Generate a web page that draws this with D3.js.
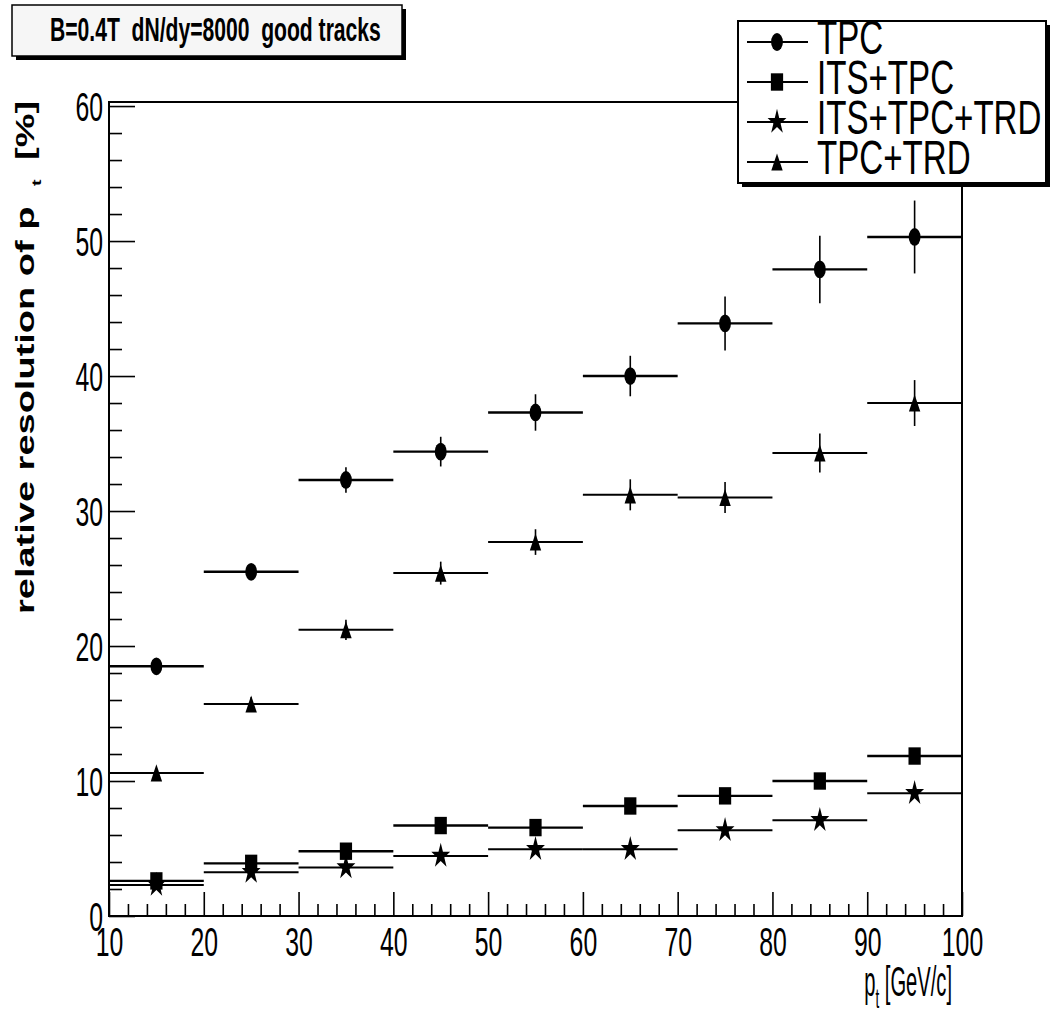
<!DOCTYPE html>
<html>
<head>
<meta charset="utf-8">
<script src="https://cdn.jsdelivr.net/npm/d3@7"></script>
<style>
  body { margin: 0; background: #fff; }
  svg text { font-family: "Liberation Sans", Arial, Helvetica, sans-serif; white-space: pre; fill: #000; }
</style>
</head>
<body>
<div id="chart"></div>
<script>
// pt bins [GeV/c]
const binEdges   = [10, 20, 30, 40, 50, 60, 70, 80, 90, 100];
const binCenters = [15, 25, 35, 45, 55, 65, 75, 85, 95];

// relative pt resolution [%]
const tpc       = [18.5, 25.5, 32.3, 34.4, 37.3, 40.0, 43.9, 47.9, 50.3];
const tpcErr    = [0.3, 0.4, 0.95, 1.1, 1.35, 1.5, 2.0, 2.5, 2.7];
const its       = [2.6, 3.9, 4.8, 6.7, 6.55, 8.15, 8.9, 10.0, 11.85];
const itsErr    = [0.1, 0.15, 0.15, 0.2, 0.2, 0.25, 0.25, 0.3, 0.35];
const itsTrd    = [2.3, 3.25, 3.6, 4.45, 4.95, 4.95, 6.35, 7.1, 9.1];
const itsTrdErr = [0.1, 0.1, 0.15, 0.15, 0.2, 0.2, 0.25, 0.25, 0.3];
const tpcTrd    = [10.6, 15.7, 21.2, 25.4, 27.7, 31.2, 31.0, 34.3, 38.0];
const tpcTrdErr = [0.35, 0.5, 0.75, 0.85, 0.95, 1.15, 1.15, 1.45, 1.7];

const xTicks = [10, 20, 30, 40, 50, 60, 70, 80, 90, 100];
const yTicks = [0, 10, 20, 30, 40, 50, 60];
const xTickLabels = ['10', '20', '30', '40', '50', '60', '70', '80', '90', '100'];
const yTickLabels = ['0', '10', '20', '30', '40', '50', '60'];
const seriesNames = ['TPC', 'ITS+TPC', 'ITS+TPC+TRD', 'TPC+TRD'];
const titleText = 'B=0.4T  dN/dy=8000  good tracks';

const W = 1050, H = 1016;
const margin = { top: 102, right: 88, bottom: 100, left: 109 };
const iW = W - margin.left - margin.right;
const iH = H - margin.top - margin.bottom;
const SX = 0.62;   // ROOT text looks horizontally squeezed

const svg = d3.select('#chart').append('svg')
  .attr('width', W).attr('height', H);

const g = svg.append('g').attr('transform', `translate(${margin.left},${margin.top})`);

const x = d3.scaleLinear().domain([10, 100]).range([0, iW]);
const y = d3.scaleLinear().domain([0, 60.3]).range([iH, 0]);

const xMinor = d3.range(12, 100, 2).filter(v => v % 10 !== 0);
const yMinor = d3.range(2, 60, 2).filter(v => v % 10 !== 0);

// ticks (inside the frame, ROOT style)
const tickStyle = ax => ax.selectAll('line').attr('stroke', '#000').attr('stroke-width', 1.6);

g.append('g').attr('transform', `translate(0,${iH})`)
  .call(d3.axisBottom(x).tickValues(xMinor).tickSize(-12).tickFormat(''))
  .call(ax => ax.select('.domain').remove())
  .call(tickStyle);

g.append('g').attr('transform', `translate(0,${iH})`)
  .call(d3.axisBottom(x).tickValues(xTicks).tickSize(-24).tickFormat((d, i) => xTickLabels[i]))
  .call(ax => ax.select('.domain').remove())
  .call(tickStyle)
  .call(ax => ax.selectAll('text')
    .attr('y', 0).attr('dy', null)
    .attr('font-size', 40)
    .attr('transform', `translate(0,40) scale(${SX},1)`));

g.append('g')
  .call(d3.axisLeft(y).tickValues(yMinor).tickSize(-13).tickFormat(''))
  .call(ax => ax.select('.domain').remove())
  .call(tickStyle);

g.append('g')
  .call(d3.axisLeft(y).tickValues(yTicks).tickSize(-26).tickFormat((d, i) => yTickLabels[i]))
  .call(ax => ax.select('.domain').remove())
  .call(tickStyle)
  .call(ax => ax.selectAll('text')
    .attr('x', 0).attr('dy', null)
    .attr('font-size', 40)
    .attr('transform', `translate(-6,14) scale(${SX},1)`));

// frame
g.append('rect')
  .attr('width', iW).attr('height', iH)
  .attr('fill', 'none').attr('stroke', '#000').attr('stroke-width', 2);

// markers, stretched vertically like the original
const symTriangle = {
  draw(ctx, size) {
    const w = Math.sqrt(size);
    ctx.moveTo(0, -w / 2);
    ctx.lineTo(w / 2, w / 2);
    ctx.lineTo(-w / 2, w / 2);
    ctx.closePath();
  }
};
const markers = {
  circle:   { type: d3.symbolCircle, size: 110, sy: 1.5 },
  square:   { type: d3.symbolSquare, size: 150, sy: 1.42 },
  star:     { type: d3.symbolStar, size: 110, sy: 1.34 },
  triangle: { type: symTriangle, size: 130, sy: 1.5 }
};

function drawSeries(vals, errs, mk, lw) {
  const s = g.append('g').attr('stroke', '#000');
  s.selectAll('line.v').data(vals).join('line')
    .attr('class', 'v')
    .attr('x1', (d, i) => x(binCenters[i])).attr('x2', (d, i) => x(binCenters[i]))
    .attr('y1', (d, i) => y(d - errs[i])).attr('y2', (d, i) => y(d + errs[i]))
    .attr('stroke-width', 1.6);
  s.selectAll('line.h').data(vals).join('line')
    .attr('class', 'h')
    .attr('x1', (d, i) => x(binEdges[i])).attr('x2', (d, i) => x(binEdges[i + 1]))
    .attr('y1', d => y(d)).attr('y2', d => y(d))
    .attr('stroke-width', lw);
  const m = markers[mk];
  s.selectAll('path.m').data(vals).join('path')
    .attr('class', 'm')
    .attr('d', d3.symbol().type(m.type).size(m.size))
    .attr('transform', (d, i) => `translate(${x(binCenters[i])},${y(d)}) scale(1,${m.sy})`)
    .attr('fill', '#000').attr('stroke', 'none');
}

drawSeries(tpcTrd, tpcTrdErr, 'triangle', 2);
drawSeries(itsTrd, itsTrdErr, 'star', 2);
drawSeries(its, itsErr, 'square', 2.4);
drawSeries(tpc, tpcErr, 'circle', 2.4);

// axis titles
svg.append('text')
  .attr('font-weight', 'bold').attr('font-size', 25)
  .attr('transform', 'translate(34,614) rotate(-90) scale(1.52,1)')
  .text('relative resolution of p');
svg.append('text')
  .attr('font-weight', 'bold').attr('font-size', 13)
  .attr('transform', 'translate(41,186) rotate(-90) scale(1.52,1)')
  .text('t');
svg.append('text')
  .attr('font-weight', 'bold').attr('font-size', 25)
  .attr('transform', 'translate(34,160) rotate(-90) scale(1.52,1)')
  .text('[%]');

const xt = svg.append('text')
  .attr('font-size', 42).attr('text-anchor', 'end')
  .attr('transform', 'translate(952,996) scale(0.48,1)');
xt.append('tspan').text('p');
xt.append('tspan').attr('font-size', 28).attr('dy', 12).text('t');
xt.append('tspan').attr('dy', -12).text(' [GeV/c]');

// title box
const tb = { x: 12, y: 5, w: 390, h: 51 };
svg.append('rect')
  .attr('x', tb.x + 4).attr('y', tb.y + 4).attr('width', tb.w).attr('height', tb.h)
  .attr('fill', '#000');
svg.append('rect')
  .attr('x', tb.x).attr('y', tb.y).attr('width', tb.w).attr('height', tb.h)
  .attr('fill', '#f6f6f6').attr('stroke', '#000').attr('stroke-width', 1.5);
svg.append('text')
  .attr('font-weight', 'bold').attr('font-size', 33)
  .attr('transform', 'translate(50,41) scale(0.64,1)')
  .text(titleText);

// legend
const lg = { x: 738, y: 21, w: 308, h: 162 };
svg.append('rect')
  .attr('x', lg.x + 4).attr('y', lg.y + 4).attr('width', lg.w).attr('height', lg.h)
  .attr('fill', '#000');
svg.append('rect')
  .attr('x', lg.x).attr('y', lg.y).attr('width', lg.w).attr('height', lg.h)
  .attr('fill', '#fff').attr('stroke', '#000').attr('stroke-width', 2);

const legendMarkers = ['circle', 'square', 'star', 'triangle'];
const legRow = d3.scaleLinear().domain([0, 3]).range([42, 162]);
const leg = svg.append('g');
seriesNames.forEach((name, i) => {
  const yy = legRow(i);
  leg.append('line')
    .attr('x1', 747).attr('x2', 808).attr('y1', yy).attr('y2', yy)
    .attr('stroke', '#000').attr('stroke-width', 2);
  const m = markers[legendMarkers[i]];
  leg.append('path')
    .attr('d', d3.symbol().type(m.type).size(m.size))
    .attr('transform', `translate(777,${yy}) scale(1,${m.sy})`)
    .attr('fill', '#000');
  leg.append('text')
    .attr('font-size', 48)
    .attr('transform', `translate(817,${yy + 12}) scale(0.69,1)`)
    .text(name);
});
</script>
</body>
</html>
